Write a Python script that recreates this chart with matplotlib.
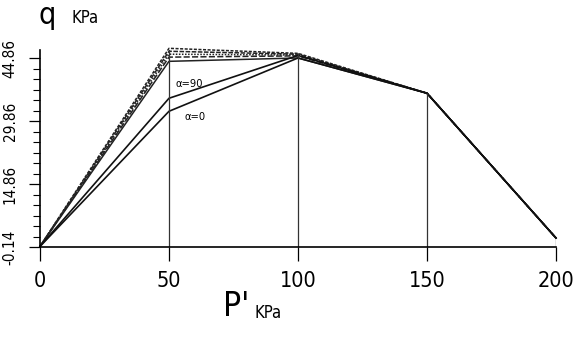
import numpy as np
import matplotlib.pyplot as plt
from matplotlib import font_manager

names = {f.name for f in font_manager.fontManager.ttflist}
fam = ["Liberation Sans Narrow", "DejaVu Sans"] if "Liberation Sans Narrow" in names else ["DejaVu Sans"]
plt.rcParams["font.family"] = fam
plt.rcParams["font.stretch"] = "condensed"

# p' (KPa) stations
p = [0, 50, 100, 150, 200]

# upper group of stress paths (q in KPa)
upper = [
    [0, 47.2, 46.0, 36.5, 2.0],
    [0, 46.5, 45.8, 36.5, 2.0],
    [0, 45.8, 45.6, 36.5, 2.0],
    [0, 45.1, 45.4, 36.5, 2.0],
    [0, 44.1, 44.9, 36.5, 2.0],
]
q_a90 = [0, 35.3, 45.5, 36.5, 2.0]
q_a0 = [0, 32.2, 44.9, 36.5, 2.0]

xticks = [0, 50, 100, 150, 200]
yticks = [-0.14, 14.86, 29.86, 44.86]

fig = plt.figure(figsize=(5.74, 3.38), dpi=100)
ax = fig.add_axes([40 / 574, 91 / 338, 516 / 574, 197 / 338])

styles = [(0, (2, 1)), (0, (3, 1)), (0, (1, 1)), (0, (4, 1.5)), "-"]
for q, ls in zip(upper, styles):
    ax.plot(p, q, color="#222222", lw=1.1, ls=ls, clip_on=False)
ax.plot(p, q_a90, color="#111111", lw=1.2, clip_on=False)
ax.plot(p, q_a0, color="#111111", lw=1.2, clip_on=False)

# vertical guide lines up to the highest path
top = np.max(np.array(upper + [q_a90, q_a0]), axis=0)
for xv, yv in zip(p[1:], top[1:]):
    ax.vlines(xv, -0.14, yv, color="#333333", lw=0.9)

ax.text(58, 38.7, "α=90", fontsize=8, ha="center", va="center")
ax.text(60, 30.8, "α=0", fontsize=8, ha="center", va="center")

ax.set_xlim(0, 200)
ax.set_ylim(-0.14, 46.8)
ax.set_xticks(xticks)
ax.set_xticklabels([str(v) for v in xticks], fontsize=15.5)
ax.set_yticks(yticks)
ax.set_yticklabels(["%.2f" % v for v in yticks], fontsize=11, rotation=90, va="center")
ax.set_yticks(np.arange(-0.14, 46.8, 2.5), minor=True)
ax.tick_params(axis="x", direction="out", length=10, width=0.9, pad=7)
ax.tick_params(axis="y", which="major", direction="out", length=8, width=0.9, pad=8)
ax.tick_params(axis="y", which="minor", direction="out", length=5, width=0.8)
for s in ["top", "right"]:
    ax.spines[s].set_visible(False)
for s in ["left", "bottom"]:
    ax.spines[s].set_linewidth(1.2)

fig.text(47 / 574, 1 - 15 / 338, "q", fontsize=22, ha="center", va="center")
fig.text(85 / 574, 1 - 18 / 338, "KPa", fontsize=12, ha="center", va="center")
fig.text(236 / 574, 1 - 306 / 338, "P'", fontsize=24, ha="center", va="center")
fig.text(268 / 574, 1 - 313 / 338, "KPa", fontsize=12, ha="center", va="center")

fig.savefig("out.png", dpi=100)
